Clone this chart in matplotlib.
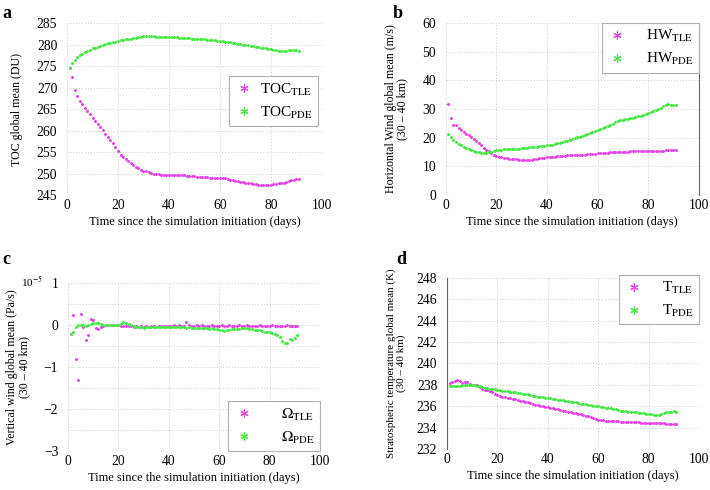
import numpy as np
import matplotlib
matplotlib.use("Agg")
import matplotlib.pyplot as plt
from matplotlib.ticker import MultipleLocator

plt.rcParams['font.family'] = ['Liberation Serif', 'DejaVu Serif']
plt.rcParams['mathtext.fontset'] = 'stix'

# ---- data ----
days = list(range(1, 92))

toc_tle = [274.6, 272.4, 269.4, 268.1, 266.9, 266.1, 265.3, 264.5, 263.8, 263.0,
           262.3, 261.6, 260.9, 260.1, 259.3, 258.6, 257.9, 257.0, 256.1, 255.2,
           254.4, 253.8, 253.3, 252.8, 252.4, 251.9, 251.5, 251.2, 250.9, 250.7,
           250.5, 250.3, 250.2, 250.0, 249.9, 249.8, 249.7, 249.7, 249.6, 249.6,
           249.6, 249.6, 249.6, 249.6, 249.6, 249.6, 249.5, 249.5, 249.5, 249.4,
           249.3, 249.3, 249.2, 249.2, 249.1, 249.0, 249.0, 248.9, 248.9, 249.0,
           249.0, 248.9, 248.8, 248.6, 248.5, 248.3, 248.2, 248.1, 248.0, 247.9,
           247.8, 247.7, 247.6, 247.5, 247.4, 247.3, 247.3, 247.3, 247.3, 247.4,
           247.5, 247.6, 247.7, 247.8, 247.9, 248.1, 248.3, 248.4, 248.6, 248.7, 248.8]
toc_pde = [274.6, 275.6, 276.4, 277.0, 277.5, 277.9, 278.2, 278.5, 278.8, 279.1,
           279.3, 279.5, 279.7, 279.9, 280.1, 280.3, 280.4, 280.6, 280.7, 280.9,
           281.0, 281.1, 281.2, 281.3, 281.4, 281.5, 281.6, 281.7, 281.8, 281.9,
           281.9, 281.9, 281.9, 281.9, 281.8, 281.8, 281.8, 281.8, 281.8, 281.7,
           281.7, 281.7, 281.7, 281.6, 281.6, 281.6, 281.5, 281.5, 281.4, 281.4,
           281.3, 281.3, 281.2, 281.2, 281.1, 281.1, 281.0, 281.0, 280.9, 280.9,
           280.8, 280.7, 280.6, 280.5, 280.4, 280.3, 280.2, 280.1, 280.0, 279.9,
           279.8, 279.7, 279.6, 279.5, 279.4, 279.3, 279.2, 279.1, 279.0, 278.9,
           278.8, 278.7, 278.6, 278.6, 278.6, 278.6, 278.7, 278.7, 278.7, 278.7, 278.6]

hw_tle = [31.8, 27.0, 24.6, 24.5, 23.3, 22.6, 22.0, 21.4, 20.8, 20.2,
          19.5, 18.8, 18.0, 17.3, 16.5, 15.8, 15.2, 14.6, 14.1, 13.7,
          13.4, 13.1, 12.9, 12.8, 12.7, 12.6, 12.5, 12.4, 12.3, 12.2,
          12.1, 12.1, 12.2, 12.3, 12.5, 12.6, 12.8, 12.9, 13.0, 13.1,
          13.2, 13.3, 13.4, 13.5, 13.5, 13.6, 13.7, 13.8, 13.8, 13.9,
          13.9, 14.0, 14.0, 14.1, 14.1, 14.2, 14.2, 14.3, 14.4, 14.5,
          14.6, 14.7, 14.8, 14.8, 14.9, 14.9, 15.0, 15.0, 15.0, 15.1,
          15.1, 15.1, 15.2, 15.2, 15.2, 15.2, 15.3, 15.3, 15.3, 15.3,
          15.4, 15.4, 15.4, 15.5, 15.5, 15.5, 15.6, 15.6, 15.7, 15.7, 15.8]
hw_pde = [21.2, 20.2, 19.3, 18.5, 17.9, 17.3, 16.8, 16.4, 16.0, 15.7,
          15.4, 15.1, 14.9, 14.8, 14.8, 14.8, 14.9, 15.1, 15.4, 15.6,
          15.7, 15.8, 15.9, 15.9, 16.0, 16.0, 16.1, 16.1, 16.2, 16.3,
          16.4, 16.5, 16.6, 16.7, 16.8, 16.9, 17.0, 17.1, 17.2, 17.3,
          17.5, 17.6, 17.8, 18.0, 18.2, 18.4, 18.7, 18.9, 19.2, 19.5,
          19.8, 20.1, 20.4, 20.7, 21.0, 21.3, 21.7, 22.0, 22.3, 22.7,
          23.0, 23.4, 23.8, 24.1, 24.5, 24.9, 25.3, 25.7, 26.0, 26.2,
          26.4, 26.6, 26.8, 27.0, 27.2, 27.4, 27.7, 27.9, 28.2, 28.5,
          28.8, 29.2, 29.6, 30.0, 30.5, 31.0, 31.4, 31.6, 31.5, 31.4, 31.4]

# vertical wind, units of 1e-5 Pa/s
om_tle = [-0.22, 0.24, -0.81, -1.30, 0.26, -0.04, -0.35, -0.24, 0.14, 0.11,
          -0.08, -0.09, -0.06, -0.03, -0.01, 0.00, 0.00, -0.01, 0.00, -0.01,
          -0.02, -0.02, -0.03, -0.02, -0.03, -0.04, -0.03, -0.04, -0.03, -0.04,
          -0.03, -0.04, -0.03, -0.03, -0.04, -0.03, -0.02, -0.03, -0.02, -0.03,
          -0.02, -0.01, -0.02, -0.01, -0.02, -0.02, 0.06, -0.01, -0.03, -0.02,
          0.00, -0.02, -0.01, -0.02, -0.02, -0.02, -0.01, -0.02, -0.02, -0.02,
          -0.01, -0.03, -0.02, -0.01, -0.02, -0.03, -0.02, -0.01, -0.02, -0.02,
          -0.01, -0.02, -0.03, -0.02, -0.02, -0.01, -0.02, -0.03, -0.02, -0.02,
          -0.01, -0.02, -0.02, -0.03, -0.02, -0.02, -0.01, -0.02, -0.02, -0.02, -0.03]
om_pde = [-0.22, -0.17, -0.05, 0.00, 0.00, 0.00, -0.02, 0.00, 0.03, 0.04,
          0.04, 0.04, 0.03, 0.01, 0.00, -0.01, 0.00, 0.00, 0.00, 0.01,
          0.03, 0.06, 0.04, 0.02, -0.01, -0.03, -0.04, -0.05, -0.06, -0.07,
          -0.06, -0.05, -0.05, -0.04, -0.05, -0.04, -0.05, -0.04, -0.04, -0.05,
          -0.04, -0.05, -0.05, -0.06, -0.05, -0.06, -0.07, -0.06, -0.08, -0.07,
          -0.08, -0.08, -0.07, -0.08, -0.08, -0.09, -0.08, -0.09, -0.09, -0.11,
          -0.13, -0.14, -0.12, -0.11, -0.10, -0.10, -0.09, -0.09, -0.08, -0.08,
          -0.08, -0.09, -0.10, -0.11, -0.12, -0.12, -0.14, -0.16, -0.17, -0.17,
          -0.19, -0.21, -0.24, -0.29, -0.38, -0.43, -0.42, -0.34, -0.35, -0.32, -0.25]

t_tle = [238.2, 238.3, 238.4, 238.45, 238.4, 238.2, 238.25, 238.3, 238.1, 238.0,
         237.95, 238.0, 237.8, 237.6, 237.55, 237.5, 237.45, 237.3, 237.15, 237.05,
         237.0, 236.9, 236.85, 236.8, 236.75, 236.7, 236.65, 236.6, 236.5, 236.45,
         236.4, 236.35, 236.3, 236.2, 236.15, 236.1, 236.05, 236.0, 235.95, 235.9,
         235.85, 235.8, 235.75, 235.7, 235.65, 235.6, 235.55, 235.5, 235.45, 235.4,
         235.35, 235.3, 235.25, 235.2, 235.1, 235.05, 235.0, 234.9, 234.8, 234.75,
         234.7, 234.7, 234.65, 234.65, 234.6, 234.6, 234.6, 234.6, 234.55, 234.55,
         234.55, 234.5, 234.5, 234.5, 234.5, 234.5, 234.45, 234.45, 234.45, 234.45,
         234.4, 234.4, 234.4, 234.4, 234.4, 234.4, 234.35, 234.35, 234.35, 234.35, 234.3]
t_pde = [237.85, 237.85, 237.9, 237.9, 237.9, 237.95, 237.95, 238.0, 238.0, 238.0,
         237.95, 237.9, 237.85, 237.8, 237.75, 237.7, 237.65, 237.6, 237.6, 237.55,
         237.5, 237.45, 237.4, 237.4, 237.35, 237.3, 237.3, 237.25, 237.2, 237.15,
         237.1, 237.1, 237.05, 237.0, 236.95, 236.9, 236.9, 236.85, 236.8, 236.8,
         236.75, 236.7, 236.65, 236.6, 236.6, 236.55, 236.5, 236.45, 236.4, 236.4,
         236.35, 236.3, 236.25, 236.2, 236.2, 236.15, 236.1, 236.05, 236.0, 236.0,
         235.95, 235.9, 235.85, 235.8, 235.8, 235.75, 235.7, 235.65, 235.6, 235.6,
         235.55, 235.5, 235.5, 235.45, 235.45, 235.4, 235.4, 235.35, 235.3, 235.3,
         235.25, 235.2, 235.2, 235.15, 235.3, 235.4, 235.45, 235.5, 235.5, 235.55, 235.5]

MAG = '#e445e4'
GRN = '#45ea45'
AST = (6, 2, 0)   # asterisk marker like MATLAB '*'
xlab = "Time since the simulation initiation (days)"


def setup(ax, ylim, ystep, ylabel, lpad, minor=None, yfs=8.6):
    ax.set_xlim(0, 100)
    ax.set_ylim(*ylim)
    ax.xaxis.set_major_locator(MultipleLocator(20))
    ax.yaxis.set_major_locator(MultipleLocator(ystep))
    if minor:
        ax.yaxis.set_minor_locator(MultipleLocator(minor))
        ax.grid(True, which='minor', axis='y', color='#cccccc', ls=(0, (1, 2)), lw=0.7)
    ax.grid(True, which='major', color='#cccccc', ls=(0, (1, 2)), lw=0.7)
    ax.tick_params(length=0, labelsize=9.8, which='both')
    ax.tick_params(axis='y', pad=7, which='both')
    ax.tick_params(axis='x', pad=3)
    for s in ax.spines.values():
        s.set_visible(False)
    ax.set_xlabel(xlab, fontsize=9, labelpad=3)
    ax.set_ylabel(ylabel, fontsize=yfs, labelpad=lpad, linespacing=1.0)


def series(ax, y1, y2):
    ax.plot(days, y1, ls='none', marker=AST, ms=2.0, mew=0.5, color=MAG)
    ax.plot(days, y2, ls='none', marker=AST, ms=2.0, mew=0.5, color=GRN)


def legend(ax, lab1, lab2, loc, bbox, tpad=0.4):
    h1 = plt.Line2D([], [], ls='none', marker=AST, ms=6, mew=0.8, color=MAG)
    h2 = plt.Line2D([], [], ls='none', marker=AST, ms=6, mew=0.8, color=GRN)
    lg = ax.legend([h1, h2], [lab1, lab2], loc=loc, bbox_to_anchor=bbox,
                   fontsize=11, fancybox=False, framealpha=1, edgecolor='#b0b0b0',
                   handletextpad=tpad, borderpad=0.35, labelspacing=0.45,
                   handlelength=1.3, borderaxespad=0)
    lg.get_frame().set_linewidth(0.8)


fig = plt.figure(figsize=(7.1, 4.9), dpi=100)

# a
ax = fig.add_axes([0.0944, 0.602, 0.359, 0.351])
series(ax, toc_tle, toc_pde)
setup(ax, (245, 285), 5, "TOC global mean (DU)", 10)
legend(ax, r'TOC$_{\mathrm{TLE}}$', r'TOC$_{\mathrm{PDE}}$', 'upper right', (0.985, 0.69))
fig.text(0.004, 0.963, 'a', fontsize=13, fontweight='bold')

# b
ax = fig.add_axes([0.628, 0.602, 0.356, 0.351])
series(ax, hw_tle, hw_pde)
setup(ax, (0, 60), 10, "Horizontal Wind global mean (m/s)\n(30 \u2013 40 km)", 10)
ax.spines['right'].set_visible(True)
ax.spines['right'].set_color('#666666')
ax.spines['right'].set_linewidth(0.8)
legend(ax, r'HW$_{\mathrm{TLE}}$', r'HW$_{\mathrm{PDE}}$', 'upper right', (1.0, 1.0), tpad=1.2)
fig.text(0.553, 0.963, 'b', fontsize=13, fontweight='bold')

# c
ax = fig.add_axes([0.0958, 0.0796, 0.355, 0.343])
series(ax, om_tle, om_pde)
setup(ax, (-3, 1), 1, "Vertical wind global mean (Pa/s)\n(30 \u2013 40 km)", 10, minor=0.5)
legend(ax, r'$\Omega_{\mathrm{TLE}}$', r'$\Omega_{\mathrm{PDE}}$', 'lower right', (1.0, 0.0), tpad=1.8)
ax.text(-0.185, 1.01, r'10$^{-5}$', transform=ax.transAxes,
        fontsize=8, ha='left', va='center')
fig.text(0.004, 0.462, 'c', fontsize=13, fontweight='bold')

# d
ax = fig.add_axes([0.6296, 0.0837, 0.355, 0.349])
series(ax, t_tle, t_pde)
setup(ax, (232, 248), 2, "Stratospheric temperature global mean (K)\n(30 \u2013 40 km)", 8, yfs=8.0)
ax.spines['left'].set_visible(True)
ax.spines['left'].set_color('#666666')
ax.spines['left'].set_linewidth(0.8)
legend(ax, r'T$_{\mathrm{TLE}}$', r'T$_{\mathrm{PDE}}$', 'upper right', (1.0, 1.02), tpad=1.2)
fig.text(0.558, 0.462, 'd', fontsize=13, fontweight='bold')

fig.savefig("out.png", dpi=100)
